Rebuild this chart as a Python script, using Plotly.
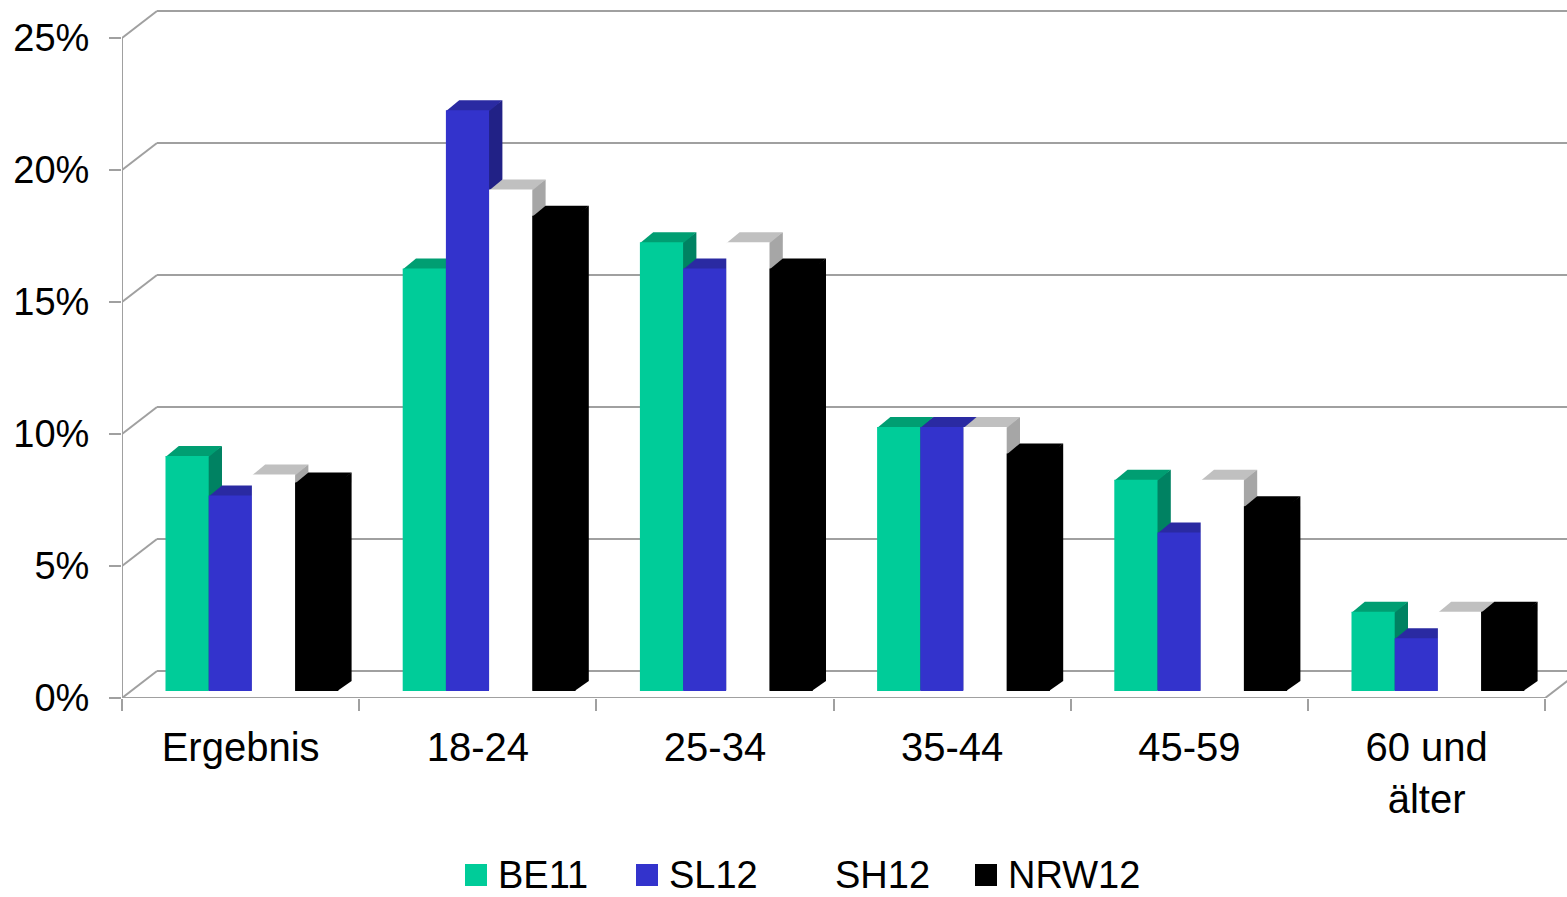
import plotly.graph_objects as go

# ---- data -------------------------------------------------------------
categories = ["Ergebnis", "18-24", "25-34", "35-44", "45-59", "60 und<br>älter"]
series_names = ["BE11", "SL12", "SH12", "NRW12"]
be11 = [8.9, 16.0, 17.0, 10.0, 8.0, 3.0]
sl12 = [7.4, 22.0, 16.0, 10.0, 6.0, 2.0]
sh12 = [8.2, 19.0, 17.0, 10.0, 8.0, 3.0]
nrw12 = [7.9, 18.0, 16.0, 9.0, 7.0, 3.0]
y_tick_values = [0, 5, 10, 15, 20, 25]
y_tick_labels = ["0%", "5%", "10%", "15%", "20%", "25%"]

series_values = [be11, sl12, sh12, nrw12]

# ---- styling: (front, top, side) face colours per series ---------------
face_colors = [
    ("#00CC99", "#009E72", "#008262"),
    ("#3333CC", "#2A2AA2", "#212186"),
    ("#FFFFFF", "#C0C0C0", "#A6A6A6"),
    ("#000000", "#000000", "#000000"),
]
GRID = "#A0A0A0"
FONT = "Liberation Sans"
FS = 40

# ---- pseudo-3D geometry (axis units: x = category, y = percent) --------
W, H = 1567, 897
M_L, M_B = 122, 199
PX_PER_CAT = 237.2
PX_PER_PCT = 26.4
WALL_DX = 35 / PX_PER_CAT       # depth of the floor / back wall
WALL_DY = 27 / PX_PER_PCT
FRONT_FRAC = 0.26               # depth at which the bar fronts sit
BAR_DX = 13.3 / PX_PER_CAT      # bar depth
BAR_DY = 10 / PX_PER_PCT
BAR_W = 43.2 / PX_PER_CAT
GROUP_LEFT = 43.5 / PX_PER_CAT
SEAM_X = 1.0 / PX_PER_CAT       # faces tuck under the front to hide seams
SEAM_Y = 1.0 / PX_PER_PCT
X_MAX = (W - M_L) / PX_PER_CAT
Y_MAX = (H - M_B) / PX_PER_PCT
Y_TOP = y_tick_values[-1]
N = len(categories)

base = FRONT_FRAC * WALL_DY

shapes = []

# back wall gridlines with the diagonal edges of the left side wall
for v in y_tick_values:
    shapes.append(dict(type="line", xref="x", yref="y", layer="below",
                       x0=0, y0=v, x1=WALL_DX, y1=v + WALL_DY,
                       line=dict(color=GRID, width=2)))
    shapes.append(dict(type="line", xref="x", yref="y", layer="below",
                       x0=WALL_DX, y0=v + WALL_DY, x1=X_MAX + 0.1, y1=v + WALL_DY,
                       line=dict(color=GRID, width=2)))

# front axis lines and right floor edge
shapes.append(dict(type="line", xref="x", yref="y", layer="below",
                   x0=0, y0=0, x1=0, y1=Y_TOP, line=dict(color=GRID, width=2)))
shapes.append(dict(type="line", xref="x", yref="y", layer="below",
                   x0=0, y0=0, x1=N, y1=0, line=dict(color=GRID, width=2)))
shapes.append(dict(type="line", xref="x", yref="y", layer="below",
                   x0=N, y0=0, x1=N + WALL_DX, y1=WALL_DY,
                   line=dict(color=GRID, width=2)))


def poly(points):
    return "M " + " L ".join(f"{x:.5f},{y:.5f}" for x, y in points) + " Z"


# side and top faces of each bar, drawn left to right
for i in range(N):
    for k, values in enumerate(series_values):
        v = values[i]
        left = i + GROUP_LEFT + k * BAR_W
        right = left + BAR_W
        top = base + v
        _, top_col, side_col = face_colors[k]
        shapes.append(dict(type="path", xref="x", yref="y", layer="below",
                           path=poly([(right - SEAM_X, base), (right + BAR_DX, base + BAR_DY),
                                      (right + BAR_DX, top + BAR_DY), (right - SEAM_X, top)]),
                           fillcolor=side_col, line=dict(width=0)))
        shapes.append(dict(type="path", xref="x", yref="y", layer="below",
                           path=poly([(left, top - SEAM_Y), (left + BAR_DX, top + BAR_DY),
                                      (right + BAR_DX, top + BAR_DY), (right, top - SEAM_Y)]),
                           fillcolor=top_col, line=dict(width=0)))


def px_to_paper(px, py):
    return (px - M_L) / (W - M_L), (H - M_B - py) / (H - M_B)


# legend: colour square followed by the series name
legend_left = [465, 636, 802, 975]
LEGEND_CY = 875
annotations = []
for k, name in enumerate(series_names):
    x0, y0 = px_to_paper(legend_left[k], LEGEND_CY - 11)
    x1, y1 = px_to_paper(legend_left[k] + 22, LEGEND_CY + 11)
    shapes.append(dict(type="rect", xref="paper", yref="paper", layer="above",
                       x0=x0, y0=y1, x1=x1, y1=y0,
                       fillcolor=face_colors[k][0], line=dict(width=0)))
    tx, ty = px_to_paper(legend_left[k] + 32, LEGEND_CY)
    annotations.append(dict(xref="paper", yref="paper", x=tx, y=ty,
                            xanchor="left", yanchor="middle", showarrow=False,
                            borderpad=0,
                            text=name, font=dict(size=38, family=FONT, color="#000000")))

fig = go.Figure()

# front faces of the bars
for k, (name, values) in enumerate(zip(series_names, series_values)):
    xs = [i + GROUP_LEFT + k * BAR_W + BAR_W / 2 for i in range(N)]
    fig.add_trace(go.Bar(
        x=xs, y=values, base=[base] * N, width=BAR_W, name=name,
        marker=dict(color=face_colors[k][0], line=dict(width=0)),
        showlegend=False,
        customdata=[c.replace("<br>", " ") for c in categories],
        hovertemplate=name + " %{customdata}: %{y:.1f}%<extra></extra>",
    ))

fig.update_layout(
    width=W, height=H, autosize=False,
    margin=dict(l=M_L, r=0, t=0, b=M_B, pad=0, autoexpand=False),
    paper_bgcolor="white", plot_bgcolor="white",
    font=dict(family=FONT, size=FS, color="#000000"),
    shapes=shapes,
    annotations=annotations,
    barmode="overlay",
    showlegend=False,
    xaxis=dict(range=[0, X_MAX], showgrid=False, zeroline=False, showline=False,
               tickmode="array", tickvals=[i + 0.5 for i in range(N)],
               ticktext=categories, ticks="",
               minor=dict(tickmode="array", tickvals=list(range(N + 1)),
                          ticks="outside", ticklen=12, tickwidth=2, tickcolor=GRID),
               ticklabelstandoff=22, fixedrange=True),
    yaxis=dict(range=[0, Y_MAX], showgrid=False, zeroline=False, showline=False,
               tickmode="array", tickvals=y_tick_values, ticktext=y_tick_labels,
               tickfont=dict(size=38),
               ticks="outside", ticklen=12, tickwidth=2, tickcolor=GRID,
               ticklabelstandoff=12, fixedrange=True),
)

fig.write_html("out.html")
